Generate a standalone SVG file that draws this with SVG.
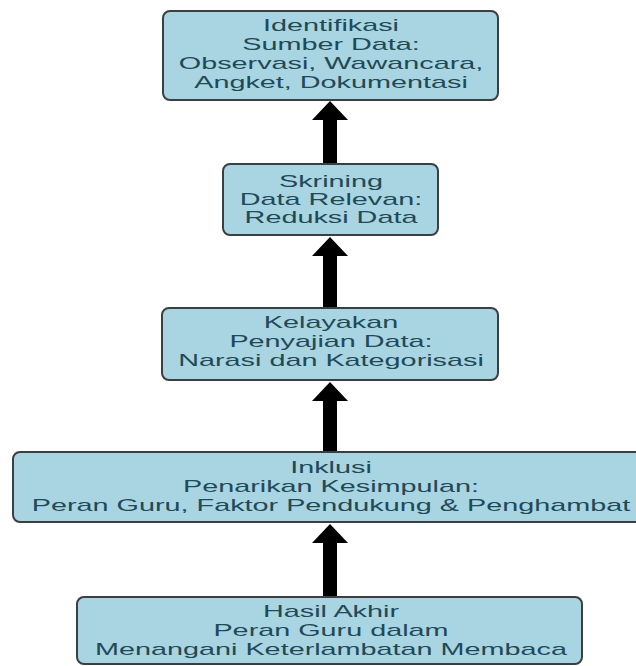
<svg xmlns="http://www.w3.org/2000/svg" width="636" height="666" viewBox="0 0 636 666">
  <style>
    .box { fill: #a9d4e2; stroke: #3a3f42; stroke-width: 2; }
    .lbl { font-family: "Liberation Sans", Arial, sans-serif; font-size: 16px; fill: #1f4a56; text-anchor: middle; }
    .arr { stroke: #000; stroke-width: 14; fill: none; }
  </style>
  <defs>
    <marker id="head" viewBox="0 0 19 36" refX="0" refY="18" markerWidth="19" markerHeight="36" markerUnits="userSpaceOnUse" orient="auto">
      <path d="M0,0 L19,18 L0,36 Z" fill="#000"/>
    </marker>
  </defs>
  <rect width="636" height="666" fill="#ffffff"/>

  <g id="connectors">
    <line class="arr" x1="330" y1="164" x2="330" y2="120" marker-end="url(#head)"/>
    <line class="arr" x1="330" y1="308" x2="330" y2="256" marker-end="url(#head)"/>
    <line class="arr" x1="330" y1="452" x2="330" y2="401" marker-end="url(#head)"/>
    <line class="arr" x1="330" y1="597" x2="330" y2="543" marker-end="url(#head)"/>
  </g>

  <g id="node-identifikasi">
    <rect class="box" x="163" y="11" width="335" height="89" rx="7"/>
    <g transform="translate(331 0) scale(1.8 1)">
      <text class="lbl" x="0" y="31.5">Identifikasi</text>
      <text class="lbl" x="0" y="50.5">Sumber Data:</text>
      <text class="lbl" x="0" y="69.5">Observasi, Wawancara,</text>
      <text class="lbl" x="0" y="88.5">Angket, Dokumentasi</text>
    </g>
  </g>

  <g id="node-skrining">
    <rect class="box" x="223" y="164" width="215" height="71" rx="7"/>
    <g transform="translate(331 0) scale(1.8 1)">
      <text class="lbl" x="0" y="187">Skrining</text>
      <text class="lbl" x="0" y="205">Data Relevan:</text>
      <text class="lbl" x="0" y="223">Reduksi Data</text>
    </g>
  </g>

  <g id="node-kelayakan">
    <rect class="box" x="162" y="308" width="336" height="72" rx="7"/>
    <g transform="translate(331 0) scale(1.8 1)">
      <text class="lbl" x="0" y="328">Kelayakan</text>
      <text class="lbl" x="0" y="347">Penyajian Data:</text>
      <text class="lbl" x="0" y="366">Narasi dan Kategorisasi</text>
    </g>
  </g>

  <g id="node-inklusi">
    <rect class="box" x="13" y="452" width="640" height="70" rx="7"/>
    <g transform="translate(331 0) scale(1.8 1)">
      <text class="lbl" x="0" y="473">Inklusi</text>
      <text class="lbl" x="0" y="492">Penarikan Kesimpulan:</text>
      <text class="lbl" x="0" y="511">Peran Guru, Faktor Pendukung &amp; Penghambat</text>
    </g>
  </g>

  <g id="node-hasil">
    <rect class="box" x="77" y="597" width="505" height="67" rx="7"/>
    <g transform="translate(331 0) scale(1.8 1)">
      <text class="lbl" x="0" y="617">Hasil Akhir</text>
      <text class="lbl" x="0" y="636">Peran Guru dalam</text>
      <text class="lbl" x="0" y="655">Menangani Keterlambatan Membaca</text>
    </g>
  </g>
</svg>
